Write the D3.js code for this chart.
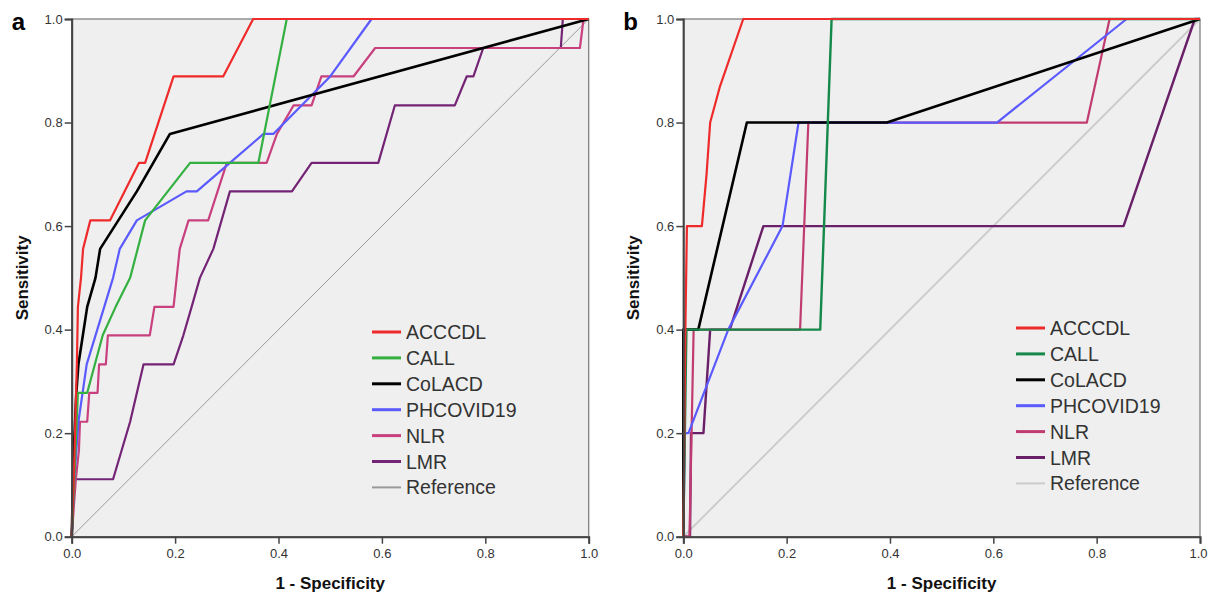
<!DOCTYPE html>
<html>
<head>
<meta charset="UTF-8">
<title>ROC curves</title>
<script src="https://d3js.org/d3.v7.min.js"></script>
<style>
  body { margin: 0; background: #fff; }
  text { font-family: "Liberation Sans", Arial, sans-serif; }
</style>
</head>
<body>
<svg id="chart" width="1208" height="594"></svg>
<script>
// series names, in legend order
const series_names = ["ACCCDL", "CALL", "CoLACD", "PHCOVID19", "NLR", "LMR", "Reference"];
const tick_values = [0, 0.2, 0.4, 0.6, 0.8, 1.0];

// panel a : [1 - specificity, sensitivity]
const a_acccdl = [[0,0],[0.004,0.111],[0.007,0.222],[0.01,0.333],[0.012,0.444],[0.018,0.5],[0.022,0.556],[0.036,0.611],[0.074,0.611],[0.13,0.722],[0.142,0.722],[0.197,0.889],[0.293,0.889],[0.351,1],[1,1]];
const a_call = [[0,0],[0.005,0.111],[0.012,0.278],[0.03,0.278],[0.06,0.389],[0.085,0.444],[0.113,0.5],[0.142,0.611],[0.229,0.722],[0.361,0.722],[0.416,1],[1,1]];
const a_colacd = [[0,0],[0.004,0.167],[0.009,0.278],[0.013,0.333],[0.03,0.444],[0.046,0.5],[0.055,0.556],[0.126,0.667],[0.19,0.778],[1,1]];
const a_phcovid = [[0,0],[0.005,0.111],[0.013,0.222],[0.029,0.333],[0.08,0.5],[0.093,0.556],[0.126,0.611],[0.222,0.667],[0.242,0.667],[0.306,0.722],[0.371,0.778],[0.39,0.778],[0.5,0.889],[0.58,1],[1,1]];
const a_nlr = [[0,0],[0.004,0.056],[0.008,0.111],[0.014,0.167],[0.016,0.222],[0.03,0.222],[0.034,0.278],[0.05,0.278],[0.053,0.333],[0.066,0.333],[0.07,0.389],[0.151,0.389],[0.16,0.444],[0.197,0.444],[0.203,0.5],[0.209,0.556],[0.226,0.611],[0.264,0.611],[0.3,0.722],[0.377,0.722],[0.397,0.778],[0.429,0.833],[0.464,0.833],[0.483,0.889],[0.545,0.889],[0.587,0.944],[0.983,0.944],[0.99,1],[1,1]];
const a_lmr = [[0,0],[0.002,0.056],[0.004,0.111],[0.08,0.111],[0.113,0.222],[0.139,0.333],[0.197,0.333],[0.216,0.389],[0.232,0.444],[0.248,0.5],[0.274,0.556],[0.306,0.667],[0.426,0.667],[0.464,0.722],[0.593,0.722],[0.625,0.833],[0.741,0.833],[0.764,0.889],[0.777,0.889],[0.796,0.944],[0.946,0.944],[0.95,1],[1,1]];

// panel b
const b_acccdl = [[0,0],[0.004,0.4],[0.007,0.6],[0.036,0.6],[0.045,0.7],[0.052,0.8],[0.071,0.87],[0.116,1],[1,1]];
const b_call = [[0,0],[0.003,0.2],[0.006,0.4],[0.265,0.4],[0.287,1],[1,1]];
const b_colacd = [[0,0],[0,0.4],[0.029,0.4],[0.123,0.8],[0.394,0.8],[1,1]];
const b_phcovid = [[0,0],[0.003,0.2],[0.01,0.2],[0.087,0.4],[0.192,0.6],[0.223,0.8],[0.607,0.8],[0.858,1],[1,1]];
const b_nlr = [[0,0],[0.012,0],[0.016,0.2],[0.02,0.4],[0.226,0.4],[0.242,0.8],[0.781,0.8],[0.825,1],[1,1]];
const b_lmr = [[0,0],[0.013,0],[0.015,0.2],[0.039,0.2],[0.052,0.4],[0.09,0.4],[0.155,0.6],[0.852,0.6],[0.99,1],[1,1]];

const reference_line = [[0,0],[1,1]];

const panels = [
  {label: "a", left: 71.7, right: 588.7, legend_x: 372, legend_y: 332,
   data: [a_acccdl, a_call, a_colacd, a_phcovid, a_nlr, a_lmr, reference_line],
   colors: ["#ee2a2a", "#33b040", "#000000", "#5a5aff", "#c8407e", "#742474", "#9a9a9a"],
   widths: [2.2, 2.2, 2.6, 2.2, 2.2, 2.2, 1]},
  {label: "b", left: 683.3, right: 1200, legend_x: 1016, legend_y: 328,
   data: [b_acccdl, b_call, b_colacd, b_phcovid, b_nlr, b_lmr, reference_line],
   colors: ["#ee2a2a", "#14894a", "#000000", "#5a5aff", "#c03c70", "#6a2068", "#cccccc"],
   widths: [2.2, 2.4, 2.6, 2.2, 2.2, 2.4, 2]}
];

const TOP = 19, BOTTOM = 536.7;
const svg = d3.select("#chart");

panels.forEach(function(p) {
  const x = d3.scaleLinear().domain([0, 1]).range([p.left, p.right]);
  const y = d3.scaleLinear().domain([0, 1]).range([BOTTOM, TOP]);
  const g = svg.append("g");

  // plot background + frame
  g.append("rect")
    .attr("x", x(0)).attr("y", y(1))
    .attr("width", x(1) - x(0)).attr("height", y(0) - y(1))
    .style("fill", "#efefef")
    .style("stroke", "#777")
    .style("stroke-width", 1.2);

  const line = d3.line().x(d => x(d[0])).y(d => y(d[1]));

  // draw reference first, then curves in reverse legend order
  for (let i = p.data.length - 1; i >= 0; i--) {
    g.append("path")
      .datum(p.data[i])
      .attr("d", line)
      .style("fill", "none")
      .style("stroke", p.colors[i])
      .style("stroke-width", p.widths[i])
      .style("stroke-linejoin", "round");
  }

  // axes
  const x_axis = g.append("g")
    .attr("transform", `translate(0,${BOTTOM})`)
    .call(d3.axisBottom(x).tickValues(tick_values).tickFormat(d3.format(".1f")).tickSize(7).tickPadding(5));
  const y_axis = g.append("g")
    .attr("transform", `translate(${p.left},0)`)
    .call(d3.axisLeft(y).tickValues(tick_values).tickFormat(d3.format(".1f")).tickSize(7).tickPadding(2));

  [x_axis, y_axis].forEach(function(ax) {
    ax.select(".domain").style("stroke", "#444").style("stroke-width", 2);
    ax.selectAll(".tick line").style("stroke", "#444").style("stroke-width", 1.5);
    ax.selectAll(".tick text")
      .style("font-size", "13px")
      .style("fill", "#333")
      .style("font-family", "'Liberation Sans', Arial, sans-serif");
  });

  // keep the last x label inside the page (right panel sits at the edge)
  if (p.right > 1190) {
    x_axis.selectAll(".tick text").filter(d => d == 1).attr("dx", -2);
  }

  // titles
  g.append("text")
    .attr("x", (p.left + p.right) / 2)
    .attr("y", 589)
    .style("text-anchor", "middle")
    .style("font-weight", "bold")
    .style("font-size", "17px")
    .style("fill", "#111")
    .text("1 - Specificity");

  g.append("text")
    .attr("transform", `translate(${p.left - 44},${(TOP + BOTTOM) / 2}) rotate(-90)`)
    .style("text-anchor", "middle")
    .style("font-weight", "bold")
    .style("font-size", "17px")
    .style("fill", "#111")
    .text("Sensitivity");

  g.append("text")
    .attr("x", p.left - 60)
    .attr("y", 30)
    .style("font-weight", "bold")
    .style("font-size", "24px")
    .style("fill", "#000")
    .text(p.label);

  // legend
  const legend = g.append("g").attr("transform", `translate(${p.legend_x},${p.legend_y})`);
  series_names.forEach(function(name, i) {
    legend.append("line")
      .attr("x1", 0).attr("x2", 29)
      .attr("y1", i * 25.9).attr("y2", i * 25.9)
      .style("stroke", p.colors[i])
      .style("stroke-width", i == 6 ? 2 : 3);
    legend.append("text")
      .attr("x", 34)
      .attr("y", i * 25.9)
      .attr("dy", "0.36em")
      .style("font-size", "19.5px")
      .style("fill", "#333")
      .text(name);
  });
});
</script>
</body>
</html>
